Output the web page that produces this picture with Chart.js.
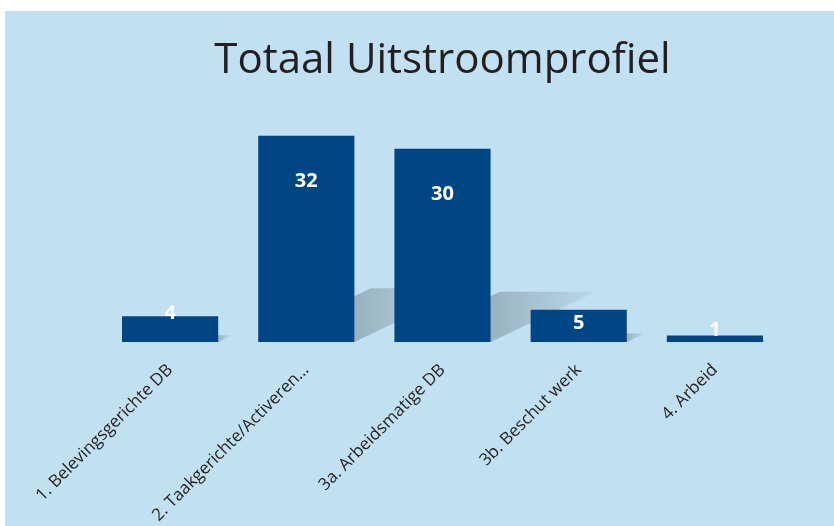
<!DOCTYPE html>
<html>
<head>
<meta charset="utf-8">
<title>Totaal Uitstroomprofiel</title>
<script src="https://cdn.jsdelivr.net/npm/chart.js@4"></script>
<style>
  html, body { margin: 0; padding: 0; background: #ffffff; }
  #wrap {
    position: absolute;
    left: 5px;
    top: 11px;
    width: 829px;
    height: 515px;
    background: #c1e0f1;
  }
</style>
</head>
<body>
<div id="wrap"><canvas id="chart-uitstroom"></canvas></div>
<script>
// Totaal Uitstroomprofiel - aantallen per profiel

const categorieen = [
  '1. Belevingsgerichte DB',
  '2. Taakgerichte/Activeren\u2026',
  '3a. Arbeidsmatige DB',
  '3b. Beschut werk',
  '4. Arbeid'
];
const aantallen = [4, 32, 30, 5, 1];

const balkKleur = '#004684';
const tekstKleur = '#231f20';
const lettertype = "'Open Sans', 'Noto Sans', sans-serif";

// schaduw achter de balken (schuin naar rechts)
const schaduwPlugin = {
  id: 'schaduw',
  beforeDatasetsDraw(chart) {
    const ctx = chart.ctx;
    const meta = chart.getDatasetMeta(0);
    ctx.save();
    meta.data.forEach(bar => {
      const w = bar.width;
      const L = bar.x - w / 2;
      const R = bar.x + w / 2;
      const h = bar.base - bar.y;
      const sh = h * 0.26;
      const dx = sh * 2.1;
      const grad = ctx.createLinearGradient(R, 0, R + dx, 0);
      grad.addColorStop(0, 'rgba(50,60,70,0.28)');
      grad.addColorStop(1, 'rgba(50,60,70,0.04)');
      ctx.fillStyle = grad;
      ctx.beginPath();
      ctx.moveTo(L, bar.base);
      ctx.lineTo(R, bar.base);
      ctx.lineTo(R + dx, bar.base - sh);
      ctx.lineTo(L + dx, bar.base - sh);
      ctx.closePath();
      ctx.fill();
    });
    ctx.restore();
  }
};

// waarden in de balken
const waardePlugin = {
  id: 'waarden',
  afterDatasetsDraw(chart) {
    const ctx = chart.ctx;
    const meta = chart.getDatasetMeta(0);
    ctx.save();
    ctx.fillStyle = '#ffffff';
    ctx.font = 'bold 20px ' + lettertype;
    ctx.textAlign = 'center';
    ctx.textBaseline = 'middle';
    meta.data.forEach((bar, i) => {
      const h = bar.base - bar.y;
      const off = Math.max(-5, Math.min(46, (h - 27) * 2.5));
      ctx.fillText(String(aantallen[i]), bar.x, bar.y + off);
    });
    ctx.restore();
  }
};

function maakGrafiek() {
  const ctx = document.getElementById('chart-uitstroom').getContext('2d');
  new Chart(ctx, {
    type: 'bar',
    data: {
      labels: categorieen,
      datasets: [{
        label: 'Totaal',
        data: aantallen,
        backgroundColor: balkKleur,
        borderWidth: 0,
        barPercentage: 0.706,
        categoryPercentage: 1
      }]
    },
    options: {
      responsive: true,
      maintainAspectRatio: false,
      animation: false,
      layout: { padding: { left: 97, right: 51, top: 0, bottom: 0 } },
      plugins: {
        legend: { display: false },
        tooltip: { enabled: false },
        title: {
          display: true,
          text: 'Totaal Uitstroomprofiel',
          color: tekstKleur,
          fullSize: false,
          font: { family: lettertype, size: 42, weight: 'normal' },
          padding: { top: 25, bottom: 30 }
        }
      },
      scales: {
        y: {
          display: false,
          min: 0,
          max: 35
        },
        x: {
          grid: { display: false, drawTicks: false },
          border: { display: false },
          ticks: {
            color: tekstKleur,
            font: { family: lettertype, size: 17 },
            minRotation: 45,
            maxRotation: 45,
            autoSkip: false,
            padding: 18
          },
          afterFit(scale) {
            scale.height = 184;
          }
        }
      }
    },
    plugins: [schaduwPlugin, waardePlugin]
  });
}

document.addEventListener('DOMContentLoaded', function() {
  maakGrafiek();
});
</script>
</body>
</html>
